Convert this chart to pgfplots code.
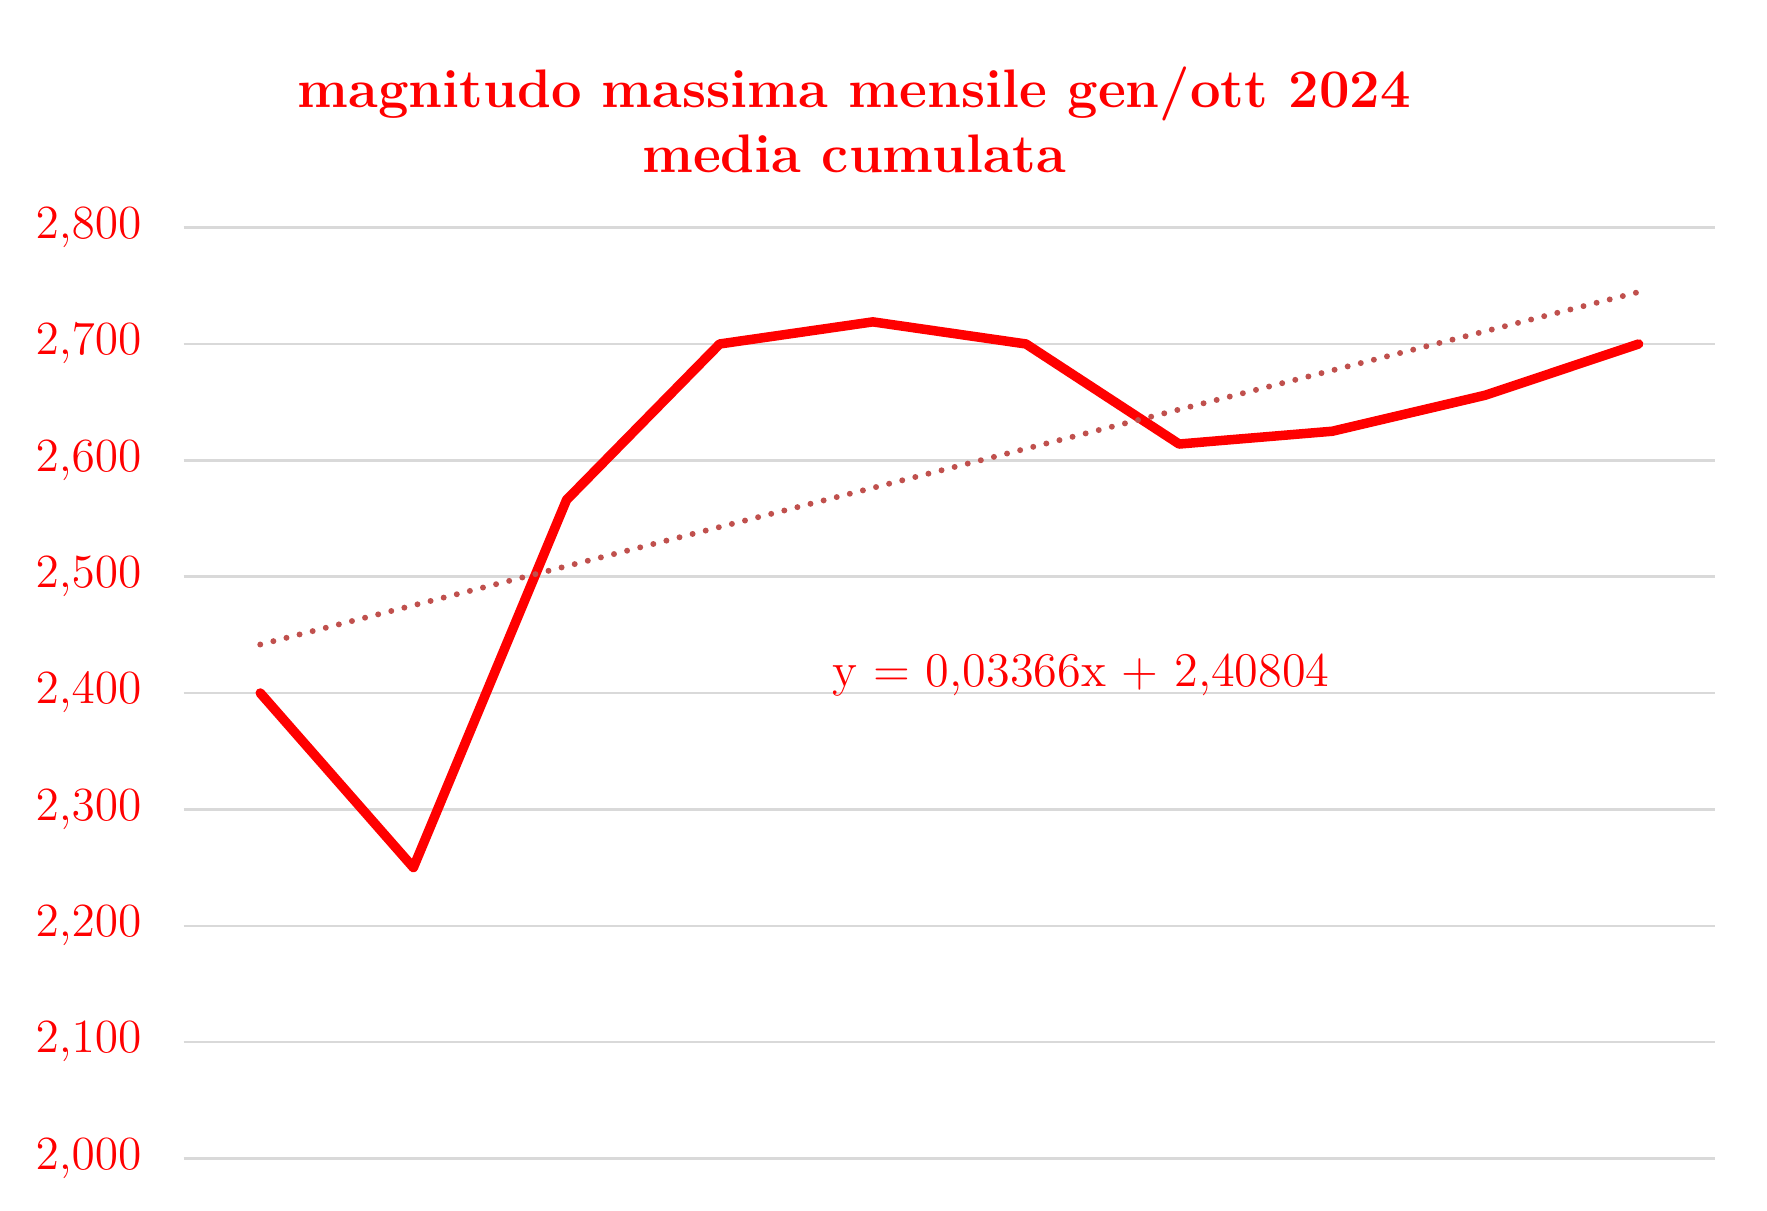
\documentclass[border=0pt]{standalone}
\usepackage{pgfplots}
\pgfplotsset{compat=1.18}
\usetikzlibrary{calc}
\definecolor{gridgray}{HTML}{D9D9D9}
\definecolor{trendred}{HTML}{C0504D}
\begin{document}
\begin{tikzpicture}
\begin{axis}[
  name=ax,
  scale only axis,
  width=13.59cm, height=8.26cm,
  xmin=0.5, xmax=10.5,
  ymin=2.0, ymax=2.8,
  ytick={2.0,2.1,...,2.8},
  xtick=\empty,
  axis line style={draw=none},
  major tick length=0pt,
  ymajorgrids,
  grid style={gridgray, line width=0.6pt},
  yticklabel style={text=red, font=\fontsize{11.5}{13}\selectfont},
  yticklabel={\pgfmathprintnumber[fixed, fixed zerofill, precision=3, use comma, set thousands separator={}]{\tick}},
  yticklabel shift=0.25cm,
  clip=false,
]
\addplot[red, line width=2.4pt, line cap=round, line join=round] coordinates {
  (1,2.400) (2,2.250) (3,2.566) (4,2.700) (5,2.719)
  (6,2.700) (7,2.614) (8,2.625) (9,2.656) (10,2.700)
};
\addplot[trendred, line width=1.5pt, line cap=round, dash pattern=on 0pt off 1.2mm] coordinates {
  (1,2.44170) (10,2.74464)
};
\node[text=red, font=\fontsize{12.2}{14}\selectfont] at (axis cs:6.36,2.415) {y = 0,03366x + 2,40804};
\end{axis}
\node[text=red, font=\bfseries\fontsize{13.7}{16.5}\selectfont, align=center, anchor=north] at ($(ax.north west)+(5.95,1.55)$) {magnitudo massima mensile gen/ott 2024\\media cumulata};
\pgfresetboundingbox
\useasboundingbox ($(ax.south west)+(-1.63,-0.46)$) rectangle ($(ax.north east)+(0.46,2.02)$);
\end{tikzpicture}
\end{document}
